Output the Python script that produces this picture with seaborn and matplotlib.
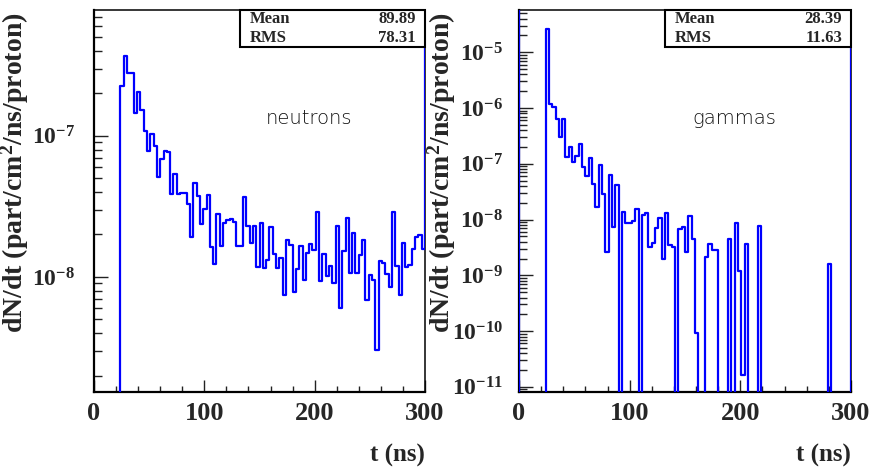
import numpy as np
import pandas as pd
import seaborn as sns
import matplotlib.pyplot as plt
from matplotlib.patches import Rectangle
from matplotlib.ticker import LogLocator, MultipleLocator, FuncFormatter, NullFormatter

# time histograms, 3 ns bins from 0 to 300 ns (part/cm2/ns/proton)
bin_width = 3
t_range = (0, 300)

neutrons = [
    0, 0, 0, 0, 0, 0, 0, 0, 2.26e-7, 3.71e-7,
    2.77e-7, 2.77e-7, 1.46e-7, 2.06e-7, 1.53e-7, 1.08e-7, 7.87e-8, 1.03e-7, 8.49e-8, 5.14e-8,
    6.84e-8, 7.87e-8, 7.71e-8, 3.88e-8, 5.37e-8, 3.88e-8, 3.96e-8, 3.93e-8, 3.27e-8, 1.91e-8,
    4.67e-8, 3.75e-8, 2.38e-8, 3.02e-8, 3.78e-8, 1.64e-8, 1.24e-8, 2.80e-8, 1.67e-8, 2.42e-8,
    2.54e-8, 2.57e-8, 2.45e-8, 1.67e-8, 1.67e-8, 3.66e-8, 2.30e-8, 1.75e-8, 2.30e-8, 1.17e-8,
    2.40e-8, 1.15e-8, 1.32e-8, 2.25e-8, 1.46e-8, 1.16e-8, 1.36e-8, 7.41e-9, 1.83e-8, 1.69e-8,
    7.78e-9, 1.13e-8, 1.66e-8, 9.53e-9, 1.47e-8, 1.71e-8, 1.55e-8, 2.88e-8, 9.42e-9, 1.46e-8,
    1.02e-8, 1.20e-8, 9.12e-9, 2.28e-8, 6.05e-9, 1.54e-8, 2.61e-8, 1.06e-8, 2.04e-8, 1.07e-8,
    1.43e-8, 1.83e-8, 6.87e-9, 1.03e-8, 9.53e-9, 3.03e-9, 1.30e-8, 1.25e-8, 1.05e-8, 8.53e-9,
    2.88e-8, 1.20e-8, 7.45e-9, 1.73e-8, 1.17e-8, 1.22e-8, 1.57e-8, 1.93e-8, 1.99e-8, 1.57e-8,
]

gammas = [
    0, 0, 0, 0, 0, 0, 0, 0, 2.55e-5, 1.17e-6,
    1.05e-6, 6.47e-7, 2.96e-7, 6.30e-7, 1.33e-7, 2.01e-7, 1.08e-7, 1.37e-7, 2.24e-7, 8.59e-8,
    6.00e-8, 1.29e-7, 4.31e-8, 1.69e-8, 9.44e-8, 2.85e-8, 2.64e-9, 6.25e-8, 7.21e-9, 4.13e-8,
    0, 1.34e-8, 8.73e-9, 8.73e-9, 9.48e-9, 1.53e-8, 0, 1.20e-8, 1.32e-8, 3.24e-9,
    3.72e-9, 6.92e-9, 1.05e-8, 2.00e-9, 1.29e-8, 3.48e-9, 3.24e-9, 0, 6.64e-9, 7.21e-9,
    2.64e-9, 1.15e-8, 4.46e-9, 9.33e-11, 0, 0, 2.15e-9, 3.62e-9, 2.83e-9, 2.83e-9,
    0, 0, 0, 4.52e-9, 0, 8.73e-9, 1.20e-9, 1.63e-11, 3.62e-9, 0,
    0, 0, 7.71e-9, 0, 0, 0, 0, 0, 0, 0,
    0, 0, 0, 0, 0, 0, 0, 0, 0, 0,
    0, 0, 0, 1.57e-9, 0, 0, 0, 0, 0, 0,
]

# under/overflow contents (off scale, drawn as the vertical edges of the frame)
neutron_under, neutron_over = 0.0, 1e-4
gamma_under, gamma_over = 1e-2, 1e-2

panel_names = ['neutrons', 'gammas']
stat_names = ['Mean', 'RMS']
neutron_stats = ['89.89', '78.31']
gamma_stats = ['28.39', '11.63']
x_ticks = [0, 100, 200, 300]
neutron_yticks = [1e-8, 1e-7]
gamma_yticks = [1e-11, 1e-10, 1e-9, 1e-8, 1e-7, 1e-6, 1e-5]
neutron_ylim = (1.53e-9, 7.8e-7)
gamma_ylim = (8.1e-12, 5.7e-5)

sns.set_style('ticks')
plt.rcParams['font.family'] = ['Liberation Serif', 'DejaVu Serif']
plt.rcParams['font.weight'] = 'bold'
plt.rcParams['mathtext.fontset'] = 'custom'
plt.rcParams['mathtext.rm'] = 'Liberation Serif:bold'
plt.rcParams['mathtext.bf'] = 'Liberation Serif:bold'
plt.rcParams['mathtext.it'] = 'Liberation Serif:bold:italic'

fig = plt.figure(figsize=(8.74, 4.74), dpi=100)
W, H = 874, 474


def px_axes(x0, y0, x1, y1):
    return fig.add_axes([x0 / W, 1 - y1 / H, (x1 - x0) / W, (y1 - y0) / H])


ax_n = px_axes(94, 10, 425, 392)
ax_g = px_axes(519, 10, 851, 392)


def draw_panel(ax, values, under, over, name, stats, ylim, yticks, label_pad, ylabel_x):
    lo, hi = t_range[0] - bin_width, t_range[1] + bin_width
    centers = np.arange(lo, hi, bin_width) + bin_width / 2
    heights = [under] + list(values) + [over]
    df = pd.DataFrame({'t': centers, 'w': heights})

    sns.histplot(data=df, x='t', weights='w', binwidth=bin_width, binrange=(lo, hi),
                 element='step', fill=False, color='#0000ff', linewidth=1.6,
                 zorder=3, ax=ax)
    ax.set_yscale('log')
    ax.set_xlim(*t_range)
    ax.set_ylim(*ylim)

    # axes / ticks in ROOT style
    ax.xaxis.set_major_locator(plt.FixedLocator(x_ticks))
    ax.xaxis.set_minor_locator(MultipleLocator(20))
    ax.yaxis.set_major_locator(plt.FixedLocator(yticks))
    ax.yaxis.set_minor_locator(LogLocator(base=10, subs=np.arange(2, 10), numticks=20))
    ax.yaxis.set_major_formatter(FuncFormatter(lambda v, p: r'$10^{%d}$' % round(np.log10(v))))
    ax.yaxis.set_minor_formatter(NullFormatter())
    ax.tick_params(axis='both', which='both', direction='in', top=False, right=False,
                   color='#222222', width=1.0)
    ax.tick_params(axis='x', which='major', length=9, pad=7, labelsize=19)
    ax.tick_params(axis='x', which='minor', length=4)
    ax.tick_params(axis='y', which='major', length=10, pad=label_pad, labelsize=17)
    ax.tick_params(axis='y', which='minor', length=5.5)
    for lab in ax.get_xticklabels():
        lab.set_fontweight('bold')

    for side in ['left', 'bottom']:
        ax.spines[side].set_linewidth(1.6)
    for side in ['top', 'right']:
        ax.spines[side].set_linewidth(1.1)
    for sp in ax.spines.values():
        sp.set_color('black')

    ax.set_xlabel('t (ns)', fontsize=18, fontweight='bold', ha='right')
    ax.xaxis.set_label_coords(1.0, -0.135)
    ax.set_ylabel(r'dN/dt (part/cm$^2$/ns/proton)', fontsize=20, fontweight='bold')
    ax.yaxis.set_label_coords(ylabel_x, 0.575)

    # statistics box
    ax.add_patch(Rectangle((0.44, 0.903), 0.56, 0.097, transform=ax.transAxes,
                           facecolor='white', edgecolor='black', linewidth=1.5,
                           clip_on=False, zorder=5))
    for k, (sname, sval) in enumerate(zip(stat_names, stats)):
        yy = 0.976 - k * 0.048
        ax.text(0.47, yy, sname, transform=ax.transAxes, fontsize=12, fontweight='bold',
                ha='left', va='center', zorder=6)
        ax.text(0.973, yy, sval, transform=ax.transAxes, fontsize=12, fontweight='bold',
                ha='right', va='center', zorder=6)

    ax.text(0.65, 0.717, name, transform=ax.transAxes, fontsize=14, color='#111111',
            family='DejaVu Sans', fontweight='light', ha='center', va='center')


draw_panel(ax_n, neutrons, neutron_under, neutron_over, panel_names[0], neutron_stats,
           neutron_ylim, neutron_yticks, 13.5, -0.19)
draw_panel(ax_g, gammas, gamma_under, gamma_over, panel_names[1], gamma_stats,
           gamma_ylim, gamma_yticks, 11.5, -0.184)

fig.savefig('out.png', dpi=100)
